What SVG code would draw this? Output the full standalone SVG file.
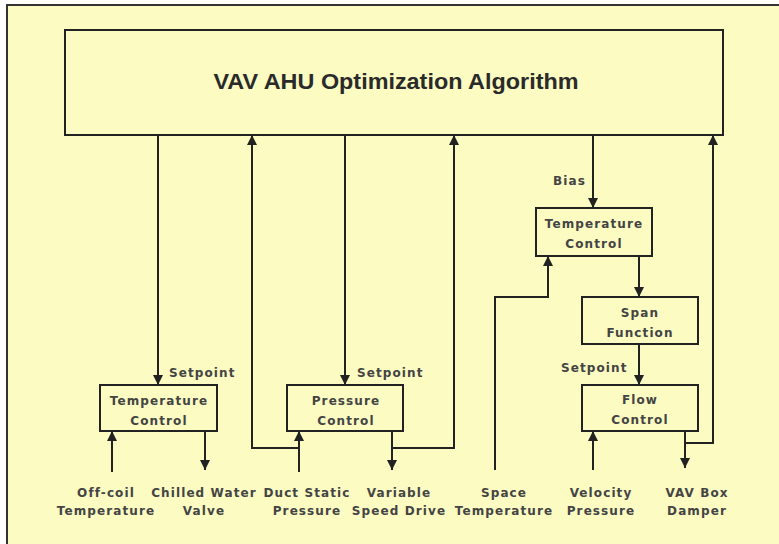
<svg xmlns="http://www.w3.org/2000/svg" width="779" height="544" viewBox="0 0 779 544">
<defs>
<marker id="ah" viewBox="0 0 10 10" refX="10" refY="5" markerWidth="10" markerHeight="10" markerUnits="userSpaceOnUse" orient="auto">
<path d="M0,0 L10,5 L0,10 z" fill="#222"/>
</marker>
</defs>
<style>
.box{fill:none;stroke:#222;stroke-width:2}
.ln{fill:none;stroke:#222;stroke-width:2;marker-end:url(#ah)}
.t{font-family:"DejaVu Sans",sans-serif;font-weight:bold;font-size:12px;letter-spacing:1.1px;fill:#444;text-anchor:middle}
.ts{font-family:"DejaVu Sans",sans-serif;font-weight:bold;font-size:12px;letter-spacing:1.1px;fill:#444}
.title{font-family:"Liberation Sans",Arial,sans-serif;font-weight:bold;font-size:22px;fill:#2a2a2a;text-anchor:middle}
</style>
<rect x="0" y="0" width="779" height="544" fill="#ffffff"/>
<rect x="7" y="5" width="800" height="600" fill="#fbfbc2" stroke="#333" stroke-width="2"/>

<g id="connectors">
<path class="ln" d="M158,135 V385"/>
<path class="ln" d="M112,472 V431"/>
<path class="ln" d="M205,431 V470"/>
<path class="ln" d="M299,448 H252 V135"/>
<path class="ln" d="M299,472 V431"/>
<path class="ln" d="M345,135 V385"/>
<path class="ln" d="M392,431 V470"/>
<path class="ln" d="M392,448 H454 V135"/>
<path class="ln" d="M593,135 V208"/>
<path class="ln" d="M495,470 V297 H548 V256"/>
<path class="ln" d="M639,256 V297"/>
<path class="ln" d="M639,344 V385"/>
<path class="ln" d="M593,470 V431"/>
<path class="ln" d="M685,431 V468"/>
<path class="ln" d="M685,443 H713 V135"/>
</g>

<g id="algorithm">
<rect class="box" x="65" y="30" width="658" height="105"/>
<text class="title" x="396" y="89" textLength="365" lengthAdjust="spacingAndGlyphs">VAV AHU Optimization Algorithm</text>
</g>

<g id="temp-control-1">
<rect class="box" x="100" y="385" width="117" height="46"/>
<text class="t" x="159" y="405">Temperature</text>
<text class="t" x="159" y="425">Control</text>
</g>

<g id="pressure-control">
<rect class="box" x="287" y="385" width="116" height="46"/>
<text class="t" x="346" y="405">Pressure</text>
<text class="t" x="346" y="425">Control</text>
</g>

<g id="temp-control-2">
<rect class="box" x="536" y="208" width="116" height="48"/>
<text class="t" x="594" y="228">Temperature</text>
<text class="t" x="594" y="248">Control</text>
</g>

<g id="span-function">
<rect class="box" x="582" y="297" width="116" height="47"/>
<text class="t" x="640" y="317">Span</text>
<text class="t" x="640" y="337">Function</text>
</g>

<g id="flow-control">
<rect class="box" x="582" y="385" width="116" height="46"/>
<text class="t" x="640" y="404">Flow</text>
<text class="t" x="640" y="424">Control</text>
</g>

<g id="labels">
<text class="ts" x="169" y="377">Setpoint</text>
<text class="ts" x="357" y="377">Setpoint</text>
<text class="ts" x="561" y="372">Setpoint</text>
<text class="ts" x="553" y="185">Bias</text>
<text class="t" x="106" y="497">Off-coil</text>
<text class="t" x="106" y="515">Temperature</text>
<text class="t" x="204" y="497">Chilled Water</text>
<text class="t" x="204" y="515">Valve</text>
<text class="t" x="307" y="497">Duct Static</text>
<text class="t" x="307" y="515">Pressure</text>
<text class="t" x="399" y="497">Variable</text>
<text class="t" x="399" y="515">Speed Drive</text>
<text class="t" x="504" y="497">Space</text>
<text class="t" x="504" y="515">Temperature</text>
<text class="t" x="601" y="497">Velocity</text>
<text class="t" x="601" y="515">Pressure</text>
<text class="t" x="697" y="497">VAV Box</text>
<text class="t" x="697" y="515">Damper</text>
</g>
</svg>
